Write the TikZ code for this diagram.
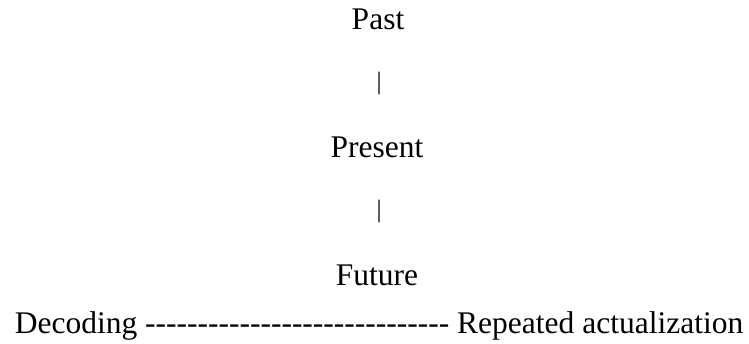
\documentclass[tikz,border=0pt]{standalone}
\usepackage{fontspec}
\setmainfont{Liberation Serif}[Ligatures=TeXOff]
\begin{document}
\begin{tikzpicture}[x=1pt,y=-1pt,
  lbl/.style={inner sep=0pt, anchor=base, font=\fontsize{31.5}{36}\selectfont},
  barlbl/.style={inner sep=0pt, anchor=base, font=\fontsize{25}{30}\selectfont}]
\useasboundingbox (0,0) rectangle (749,343);
\node[lbl]    (past)    at (378,29)  {Past};
\node[barlbl] (bar1)    at (379,89)  {|};
\node[lbl]    (present) at (377,157) {Present};
\node[barlbl] (bar2)    at (379,217) {|};
\node[lbl]    (future)  at (377,285) {Future};
\node[lbl]    (axis)    at (379,333) {Decoding ----------------------------- Repeated actualization};
\end{tikzpicture}
\end{document}
